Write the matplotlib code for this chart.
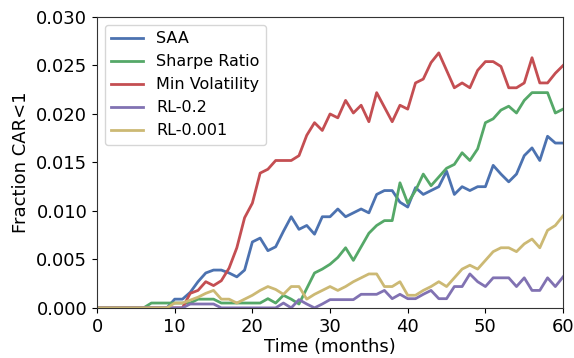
import numpy as np
from matplotlib import pyplot as plt

# months 0..60
months = np.arange(0, 61)

saa = [0, 0, 0, 0, 0, 0, 0, 0, 0, 0,
       0.0009, 0.0009, 0.0016, 0.0027, 0.0036, 0.0039, 0.0039, 0.0036, 0.0032, 0.0039,
       0.0068, 0.0072, 0.0059, 0.0063, 0.0079, 0.0094, 0.0081, 0.0085, 0.0076, 0.0094,
       0.0094, 0.0102, 0.0094, 0.0098, 0.0102, 0.0098, 0.0117, 0.0121, 0.0121, 0.0109,
       0.0104, 0.0124, 0.0117, 0.0121, 0.0125, 0.0141, 0.0117, 0.0125, 0.0121, 0.0125,
       0.0125, 0.0147, 0.0138, 0.0130, 0.0138, 0.0157, 0.0165, 0.0152, 0.0177, 0.0170,
       0.0170]

sharpe = [0, 0, 0, 0, 0, 0, 0, 0.0005, 0.0005, 0.0005,
          0.0005, 0.0005, 0.0005, 0.0009, 0.0009, 0.0009, 0.0005, 0.0005, 0.0005, 0.0005,
          0.0005, 0.0005, 0.00095, 0.0005, 0.0013, 0.0009, 0.0004, 0.0020, 0.0036, 0.0040,
          0.0045, 0.0052, 0.0062, 0.0049, 0.0063, 0.0077, 0.0085, 0.0090, 0.0090, 0.0129,
          0.0108, 0.0121, 0.0138, 0.0126, 0.0135, 0.0144, 0.0148, 0.0160, 0.0152, 0.0164,
          0.0191, 0.0195, 0.0204, 0.0208, 0.0201, 0.0214, 0.0222, 0.0222, 0.0222, 0.0201,
          0.0205]

min_vol = [0, 0, 0, 0, 0, 0, 0, 0, 0, 0,
           0, 0, 0.0015, 0.0018, 0.0027, 0.0023, 0.0028, 0.0041, 0.0062, 0.0093,
           0.0108, 0.0139, 0.0143, 0.0152, 0.0152, 0.0152, 0.0157, 0.0178, 0.0191, 0.0183,
           0.0200, 0.0196, 0.0214, 0.0201, 0.0209, 0.0192, 0.0222, 0.0207, 0.0192, 0.0209,
           0.0205, 0.0232, 0.0236, 0.0253, 0.0263, 0.0245, 0.0227, 0.0232, 0.0227, 0.0245,
           0.0254, 0.0254, 0.0249, 0.0227, 0.0227, 0.0232, 0.0258, 0.0232, 0.0232, 0.0242,
           0.0250]

rl_02 = [0, 0, 0, 0, 0, 0, 0, 0, 0, 0,
         0, 0, 0.0004, 0.0004, 0.0004, 0.0004, 0, 0, 0, 0,
         0, 0, 0, 0, 0.0005, 0, 0.00085, 0.0004, 0, 0.0004,
         0.00085, 0.00085, 0.00085, 0.00085, 0.0014, 0.0014, 0.0014, 0.0018, 0.00095, 0.0014,
         0.00095, 0.00095, 0.0014, 0.0018, 0.00095, 0.00095, 0.0022, 0.0022, 0.0035, 0.0027,
         0.0022, 0.0031, 0.0031, 0.0031, 0.0022, 0.0031, 0.0018, 0.0018, 0.0031, 0.0022,
         0.0032]

rl_0001 = [0, 0, 0, 0, 0, 0, 0, 0, 0, 0,
           0.0005, 0.0005, 0.0008, 0.0011, 0.0015, 0.0018, 0.0009, 0.0009, 0.0005, 0.0009,
           0.0013, 0.0018, 0.0022, 0.0019, 0.0014, 0.0022, 0.0022, 0.0009, 0.0014, 0.0018,
           0.0022, 0.0018, 0.0022, 0.0027, 0.0031, 0.0035, 0.0035, 0.0022, 0.0022, 0.0027,
           0.0013, 0.0013, 0.0018, 0.0022, 0.0027, 0.0022, 0.0031, 0.0040, 0.0044, 0.0040,
           0.0049, 0.0058, 0.0062, 0.0062, 0.0058, 0.0066, 0.0071, 0.0062, 0.0080, 0.0085,
           0.0095]

series = [("SAA", saa, "#4C72B0"),
          ("Sharpe Ratio", sharpe, "#55A868"),
          ("Min Volatility", min_vol, "#C44E52"),
          ("RL-0.2", rl_02, "#8172B2"),
          ("RL-0.001", rl_0001, "#CCB974")]

fig = plt.figure(figsize=(5.74, 3.58), dpi=100)
ax = fig.add_axes([0.169, 0.14, 0.812, 0.8125])
for name, vals, col in series:
    ax.plot(months, vals, color=col, lw=2, label=name)

ax.set_xlim(0, 60)
ax.set_ylim(0, 0.030)
ax.set_xticks(np.arange(0, 61, 10))
ax.set_yticks(np.arange(0, 0.0301, 0.005))
ax.set_yticklabels(["{:.3f}".format(v) for v in np.arange(0, 0.0301, 0.005)])
ax.tick_params(labelsize=13)
for sp in ax.spines.values():
    sp.set_color("#333333")
ax.set_xlabel("Time (months)", fontsize=13, labelpad=2)
ax.set_ylabel("Fraction CAR<1", fontsize=13)
ax.legend(loc="upper left", fontsize=11.5)

fig.savefig("out.png")
